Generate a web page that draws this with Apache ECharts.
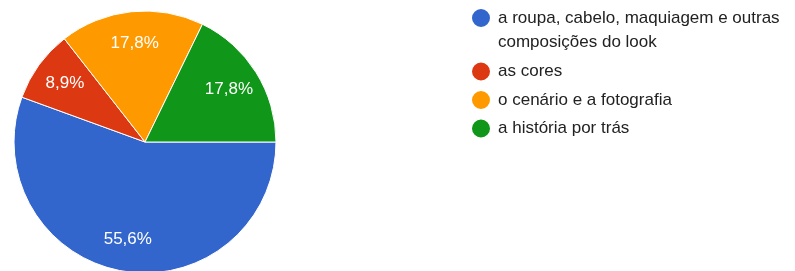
<!DOCTYPE html>
<html>
<head>
<meta charset="utf-8">
<script src="https://cdn.jsdelivr.net/npm/echarts@6/dist/echarts.min.js"></script>
<style>
  html, body { margin: 0; padding: 0; background: #fff; }
  #chart { width: 795px; height: 271px; }
</style>
</head>
<body>
<div id="chart"></div>
<script>
// respostas (45 no total)
var categories = [
    'a roupa, cabelo, maquiagem e outras\ncomposições do look',
    'as cores',
    'o cenário e a fotografia',
    'a história por trás'
];
var counts = [25, 4, 8, 8];
var colors = ['#3366cc', '#dc3912', '#ff9900', '#109618'];

var total = counts.reduce(function(a, b) { return a + b; }, 0);

var chart = echarts.init(document.getElementById('chart'));

var pieData = categories.map(function(name, i) {
    return { name: name, value: counts[i], itemStyle: { color: colors[i] } };
});

var option = {
    animation: false,
    textStyle: { fontFamily: 'Liberation Sans, Arial, sans-serif' },
    legend: {
        orient: 'vertical',
        left: 470,
        top: -18,
        padding: 0,
        itemGap: 6.5,
        icon: 'circle',
        itemWidth: 20,
        itemHeight: 20,
        selectedMode: false,
        textStyle: {
            fontSize: 17,
            color: '#222',
            lineHeight: 21,
            padding: [0, 0, 0, 2]
        },
        // o primeiro item tem duas linhas; uma linha vazia em cima deixa o ícone na primeira
        data: categories.map(function(name, i) {
            return i === 0 ? { name: name, textStyle: { lineHeight: 24 } } : { name: name };
        }),
        formatter: function(name) {
            return name === categories[0] ? '\n' + name : name;
        }
    },
    series: [{
        name: 'respostas',
        type: 'pie',
        center: [145, 142],
        radius: [0, 131],
        startAngle: 0,
        clockwise: true,
        label: { show: false },
        labelLine: { show: false },
        itemStyle: { borderColor: '#fff', borderWidth: 1 },
        data: pieData
    }, {
        // camada só para posicionar os rótulos de percentagem
        name: 'rotulos',
        type: 'pie',
        silent: true,
        center: [145, 142],
        radius: [61, 131],
        startAngle: 0,
        clockwise: true,
        itemStyle: { color: 'rgba(0,0,0,0)' },
        labelLine: { show: false },
        label: {
            show: true,
            position: 'inside',
            color: '#fff',
            fontSize: 17,
            formatter: function(p) {
                return (p.value / total * 100).toFixed(1).replace('.', ',') + '%';
            }
        },
        data: categories.map(function(name, i) {
            return { name: name, value: counts[i] };
        })
    }]
};
chart.setOption(option);
</script>
</body>
</html>
